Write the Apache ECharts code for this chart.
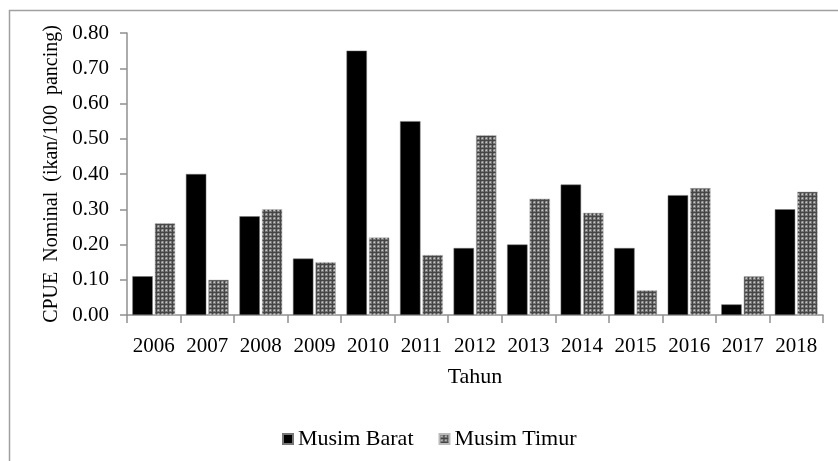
<!DOCTYPE html>
<html>
<head>
<meta charset="utf-8">
<script src="https://cdn.jsdelivr.net/npm/echarts@6/dist/echarts.min.js"></script>
<style>
html,body{margin:0;padding:0;background:#fff;}
#chart{width:838px;height:461px;}
</style>
</head>
<body>
<div id="chart"></div>
<script>
var categories = ['2006','2007','2008','2009','2010','2011','2012','2013','2014','2015','2016','2017','2018'];
var musimBarat = [0.11,0.40,0.28,0.16,0.75,0.55,0.19,0.20,0.37,0.19,0.34,0.03,0.30];
var musimTimur = [0.26,0.10,0.30,0.15,0.22,0.17,0.51,0.33,0.29,0.07,0.36,0.11,0.35];
var yTicks = ['0.00','0.10','0.20','0.30','0.40','0.50','0.60','0.70','0.80'];

function makePattern(){
  var c = document.createElement('canvas');
  c.width = 4; c.height = 4;
  var ctx = c.getContext('2d');
  ctx.fillStyle = '#767676';
  ctx.fillRect(0,0,4,4);
  ctx.fillStyle = '#454545';
  ctx.fillRect(0,0,1,4);
  ctx.fillRect(0,0,4,1);
  ctx.fillStyle = '#c8c8c8';
  ctx.fillRect(2,2,1,1);
  ctx.fillStyle = '#a0a0a0';
  ctx.fillRect(1,2,1,1);
  ctx.fillRect(2,1,1,1);
  return c;
}
var pat = {image: makePattern(), repeat: 'repeat'};

var font = "'Liberation Serif', 'Times New Roman', serif";
var chart = echarts.init(document.getElementById('chart'));
chart.setOption({
  animation: false,
  textStyle: {fontFamily: font, color: '#000'},
  graphic: [{
    type: 'rect',
    shape: {x: 9.5, y: 10.5, width: 860, height: 470},
    style: {fill: 'none', stroke: '#a0a0a0', lineWidth: 1.5},
    silent: true
  }],
  grid: {left: 127, right: 15, top: 33, bottom: 146},
  legend: {
    left: 277, top: 423,
    itemWidth: 10, itemHeight: 10, itemGap: 25,
    textStyle: {fontFamily: font, fontSize: 22, color: '#000'},
    data: [{name: 'Musim Barat', icon: 'rect'}, {name: 'Musim Timur', icon: 'rect'}]
  },
  xAxis: {
    type: 'category',
    data: categories,
    name: 'Tahun',
    nameLocation: 'middle',
    nameGap: 62,
    nameTextStyle: {fontFamily: font, fontSize: 22, color: '#000', verticalAlign: 'middle'},
    axisLine: {lineStyle: {color: '#909090', width: 1.5}},
    axisTick: {show: true, length: 8, alignWithLabel: false, lineStyle: {color: '#909090', width: 1.5}},
    axisLabel: {fontFamily: font, fontSize: 21, color: '#000', margin: 21, interval: 0}
  },
  yAxis: {
    type: 'value',
    min: 0, max: 0.8, interval: 0.1,
    name: 'CPUE  Nominal  (ikan/100  pancing)',
    nameLocation: 'middle',
    nameGap: 75,
    nameRotate: 90,
    nameTextStyle: {fontFamily: font, fontSize: 20, color: '#000', verticalAlign: 'middle'},
    axisLine: {show: true, lineStyle: {color: '#909090', width: 1.5}},
    axisTick: {show: true, length: 7, lineStyle: {color: '#909090', width: 1.5}},
    splitLine: {show: false},
    axisLabel: {
      fontFamily: font, fontSize: 21, color: '#000', margin: 18,
      formatter: function(v){ return yTicks[Math.round(v*10)]; }
    }
  },
  series: [
    {
      name: 'Musim Barat', type: 'bar', data: musimBarat,
      barCategoryGap: '20%', barGap: '10%',
      itemStyle: {color: '#000', borderColor: '#777', borderWidth: 0.5}
    },
    {
      name: 'Musim Timur', type: 'bar', data: musimTimur,
      barCategoryGap: '20%', barGap: '10%',
      itemStyle: {color: pat, borderColor: '#bbb', borderWidth: 0.5}
    }
  ]
});
</script>
</body>
</html>
